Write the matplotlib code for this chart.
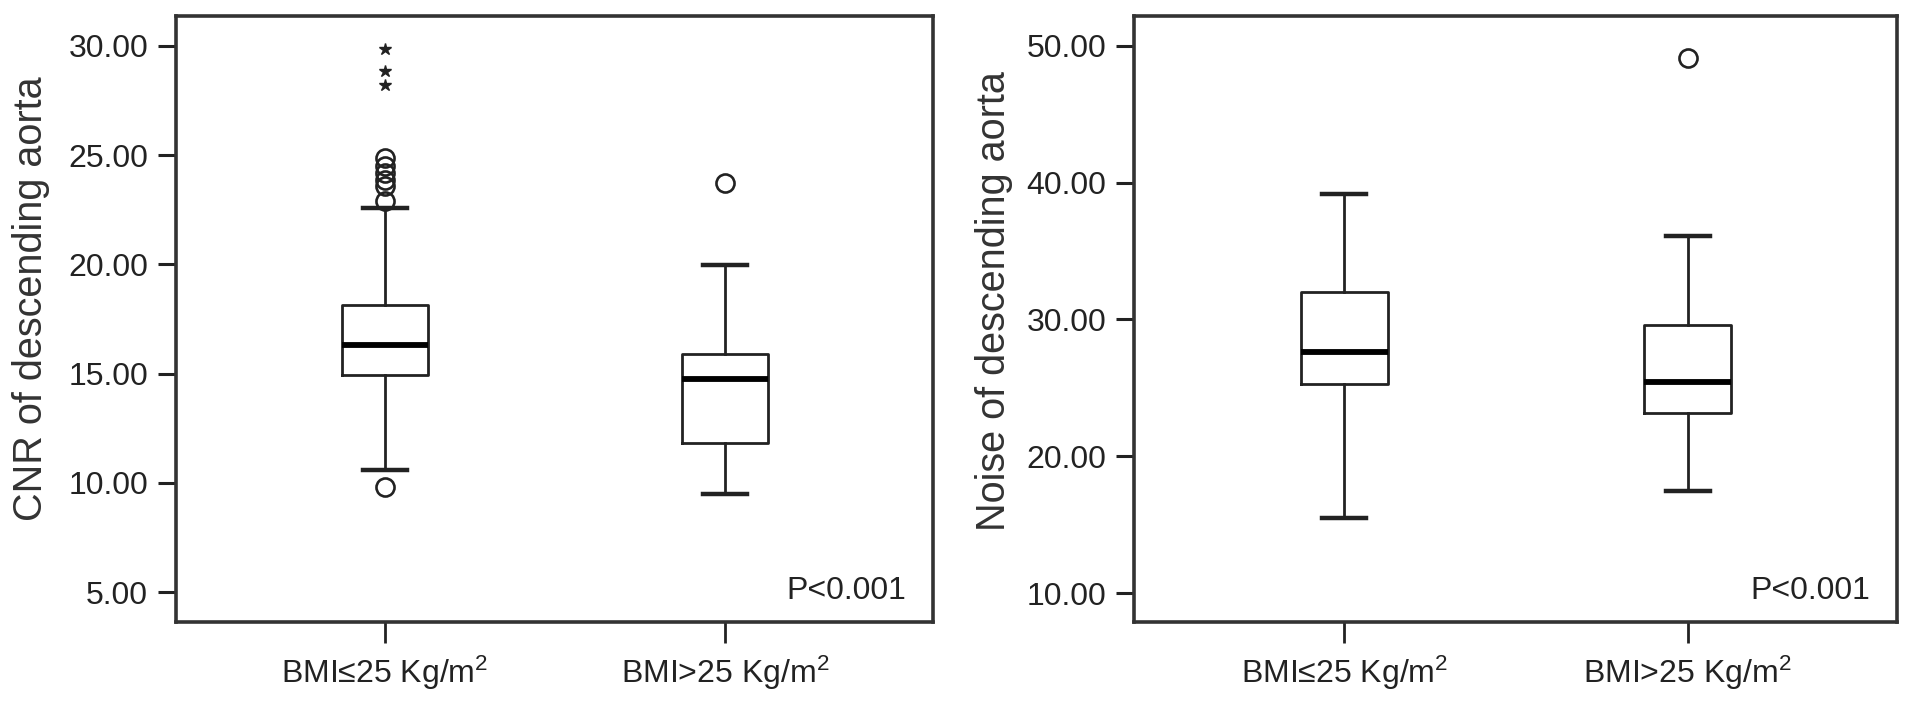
import matplotlib
matplotlib.use("Agg")
import matplotlib.pyplot as plt
import numpy as np

plt.rcParams['font.family'] = ['Liberation Sans', 'DejaVu Sans']
plt.rcParams['mathtext.fontset'] = 'custom'
plt.rcParams['mathtext.rm'] = 'Liberation Sans'
plt.rcParams['mathtext.it'] = 'Liberation Sans:italic'
plt.rcParams['mathtext.bf'] = 'Liberation Sans:bold'

categories = ["BMI\u226425 Kg/m$\\mathregular{^2}$", "BMI>25 Kg/m$\\mathregular{^2}$"]

# CNR of descending aorta
cnr_whislo = [10.58, 9.51]
cnr_q1 = [14.96, 11.82]
cnr_med = [16.30, 14.77]
cnr_q3 = [18.13, 15.88]
cnr_whishi = [22.58, 19.99]
cnr_outliers = [[9.81, 22.92, 23.57, 23.88, 24.18, 24.52, 24.87], [23.72]]
cnr_extremes = [[29.85, 28.83, 28.22], []]

# Noise of descending aorta
noise_whislo = [15.51, 17.48]
noise_q1 = [25.26, 23.14]
noise_med = [27.62, 25.45]
noise_q3 = [31.99, 29.60]
noise_whishi = [39.18, 36.11]
noise_outliers = [[], [49.1]]
noise_extremes = [[], []]

cnr_ticks = [5, 10, 15, 20, 25, 30]
noise_ticks = [10, 20, 30, 40, 50]

FS = 23
FS_LABEL = 28.5
DARK = '#222222'


def make_stats(lo, q1, med, q3, hi, fl):
    return [dict(whislo=lo[i], q1=q1[i], med=med[i], q3=q3[i], whishi=hi[i],
                 fliers=fl[i], label=categories[i]) for i in range(len(lo))]


def draw(ax, stats, extremes, ticks, ylim, ylabel):
    ax.bxp(stats, positions=[1, 2], widths=0.253, capwidths=0.128,
           boxprops=dict(color=DARK, linewidth=2.0),
           medianprops=dict(color='black', linewidth=4.2),
           whiskerprops=dict(color=DARK, linewidth=2.0),
           capprops=dict(color=DARK, linewidth=3.2),
           flierprops=dict(marker='o', markersize=13, markerfacecolor='none',
                           markeredgecolor=DARK, markeredgewidth=1.9, linestyle='none'))
    for i, ex in enumerate(extremes):
        if ex:
            ax.plot([i + 1] * len(ex), ex, linestyle='none', marker='*',
                    markersize=9, color=DARK)
    ax.set_xlim(0.387, 2.61)
    ax.set_ylim(*ylim)
    ax.set_yticks(ticks)
    ax.set_yticklabels([f"{t:.2f}" for t in ticks])
    ax.set_xticks([1, 2])
    ax.set_xticklabels(categories)
    ax.set_ylabel(ylabel, fontsize=FS_LABEL, color='#333333')
    for s in ax.spines.values():
        s.set_linewidth(2.6)
        s.set_color('#333333')
    ax.tick_params(axis='y', length=13, width=2.2, labelsize=FS, pad=7, colors=DARK)
    ax.tick_params(axis='x', length=15, width=2.0, labelsize=FS, pad=8, colors=DARK)
    ax.text(0.965, 0.052, "P<0.001", transform=ax.transAxes, ha='right', va='center',
            fontsize=FS, color=DARK)


fig = plt.figure(figsize=(19.13, 7.05), dpi=100)
ax1 = fig.add_axes([0.0920, 0.1177, 0.3957, 0.8596])
ax2 = fig.add_axes([0.5928, 0.1177, 0.3988, 0.8596])

draw(ax1, make_stats(cnr_whislo, cnr_q1, cnr_med, cnr_q3, cnr_whishi, cnr_outliers),
     cnr_extremes, cnr_ticks, (3.63, 31.37), "CNR of descending aorta")
draw(ax2, make_stats(noise_whislo, noise_q1, noise_med, noise_q3, noise_whishi, noise_outliers),
     noise_extremes, noise_ticks, (7.88, 52.19), "Noise of descending aorta")

ax1.yaxis.set_label_coords((50 - 176) / 757, 0.533)
ax2.yaxis.set_label_coords((1013 - 1134) / 763, 0.53)

fig.savefig("out.png", dpi=100, facecolor='white')
